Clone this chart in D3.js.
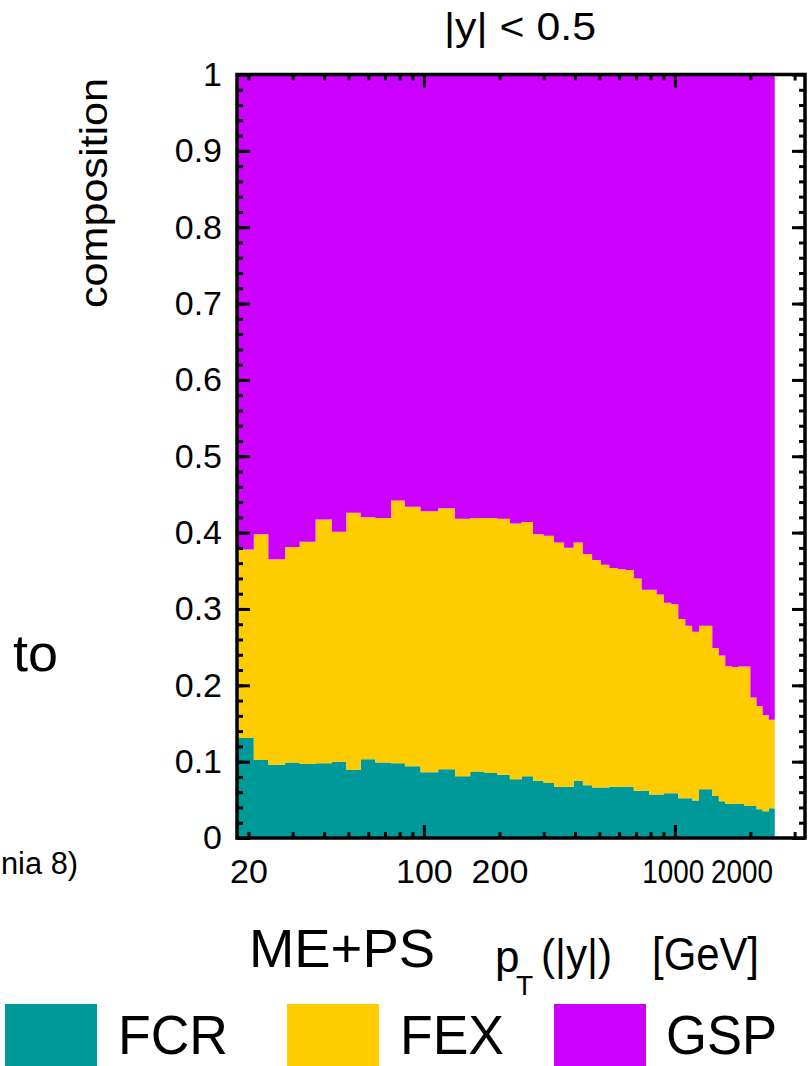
<!DOCTYPE html>
<meta charset="utf-8">
<script src="https://d3js.org/d3.v7.min.js"></script>
<style>
  body { margin: 0; background: #fff; }
  text { font-family: "Liberation Sans", Arial, sans-serif; fill: #000; }
</style>
<body>
<svg id="mysvg" width="810" height="1066"></svg>
<script>
  // bin edges in pT [GeV]
  var edges = [18, 21, 24, 28, 32, 37, 43, 49, 56, 64, 74, 84, 97, 114, 133, 153, 174, 196, 220, 245,
    272, 300, 330, 362, 395, 430, 468, 507, 548, 592, 638, 686, 737, 790, 846, 905, 967, 1032, 1101,
    1172, 1248, 1327, 1410, 1497, 1588, 1684, 1784, 1890, 2000, 2116, 2238, 2366, 2500];

  // fractions per bin
  var fcr = [0.131, 0.102, 0.096, 0.099, 0.097, 0.098, 0.100, 0.089, 0.103, 0.099, 0.098, 0.094, 0.086,
    0.090, 0.081, 0.087, 0.085, 0.083, 0.077, 0.081, 0.075, 0.072, 0.067, 0.067, 0.075, 0.069, 0.066,
    0.066, 0.067, 0.067, 0.067, 0.062, 0.062, 0.057, 0.057, 0.0585, 0.0585, 0.052, 0.052, 0.049, 0.064,
    0.064, 0.055, 0.048, 0.045, 0.045, 0.0445, 0.042, 0.042, 0.0375, 0.035, 0.039];
  var fex = [0.247, 0.296, 0.269, 0.282, 0.291, 0.319, 0.301, 0.337, 0.317, 0.320, 0.344, 0.340, 0.342,
    0.342, 0.337, 0.332, 0.334, 0.335, 0.335, 0.333, 0.323, 0.324, 0.320, 0.313, 0.312, 0.303, 0.298,
    0.292, 0.2865, 0.285, 0.284, 0.278, 0.263, 0.268, 0.262, 0.2495, 0.2475, 0.235, 0.226, 0.221, 0.214,
    0.214, 0.194, 0.191, 0.180, 0.179, 0.180, 0.1825, 0.142, 0.1355, 0.126, 0.116];
  var gsp = [0.622, 0.602, 0.635, 0.619, 0.612, 0.583, 0.599, 0.574, 0.580, 0.581, 0.558, 0.566, 0.572,
    0.568, 0.582, 0.581, 0.581, 0.582, 0.588, 0.586, 0.602, 0.604, 0.613, 0.620, 0.613, 0.628, 0.636,
    0.642, 0.6465, 0.648, 0.649, 0.660, 0.675, 0.675, 0.681, 0.692, 0.694, 0.713, 0.722, 0.730, 0.722,
    0.722, 0.751, 0.761, 0.775, 0.776, 0.7755, 0.7755, 0.816, 0.827, 0.839, 0.845];

  var keys = ["FCR", "FEX", "GSP"];
  var colors = ["#009999", "#ffcc00", "#cc00ff"];

  var xMajor = [100, 1000];
  var xMinor = [20, 30, 40, 50, 60, 70, 80, 90, 200, 300, 400, 500, 600, 700, 800, 900, 2000, 3000];
  var xLabels = [20, 100, 200, 1000, 2000];
  var yMajor = [0, 0.1, 0.2, 0.3, 0.4, 0.5, 0.6, 0.7, 0.8, 0.9, 1];
  var yMinor = d3.range(0, 51).map(function(i){ return i / 50; });

  var svg = d3.select("#mysvg");

  var x = d3.scaleLog().domain([18, 3300]).range([237, 805]);
  var y = d3.scaleLinear().domain([0, 1]).range([838, 74.5]);

  // table for the stack
  var rows = fcr.map(function(v, i){
    return { lo: edges[i], hi: edges[i+1], FCR: v, FEX: fex[i], GSP: gsp[i] };
  });
  var series = d3.stack().keys(keys)(rows);

  var area = d3.area()
      .x(function(d){ return x(d.x); })
      .y0(function(d){ return y(d.y0); })
      .y1(function(d){ return y(d.y1); });

  svg.append("g")
    .selectAll("path")
    .data(series)
    .enter()
    .append("path")
      .attr("fill", function(d, i){ return colors[i]; })
      .attr("d", function(s){
        // step shape: two points per bin
        var pts = [];
        s.forEach(function(d){
          pts.push({ x: d.data.lo, y0: d[0], y1: d[1] });
          pts.push({ x: d.data.hi, y0: d[0], y1: d[1] });
        });
        return area(pts);
      });

  // ticks on all four sides, pointing inward
  function ticks(axis, tr, len) {
    svg.append("g")
      .attr("transform", tr)
      .call(axis.tickSize(-len).tickFormat(""))
      .call(function(g){ g.select(".domain").remove(); })
      .selectAll("line").attr("stroke", "#000").attr("stroke-width", 3);
  }
  ticks(d3.axisBottom(x).tickValues(xMajor), "translate(0,838)", 13);
  ticks(d3.axisBottom(x).tickValues(xMinor), "translate(0,838)", 6);
  ticks(d3.axisTop(x).tickValues(xMajor), "translate(0,74.5)", 13);
  ticks(d3.axisTop(x).tickValues(xMinor), "translate(0,74.5)", 6);
  ticks(d3.axisLeft(y).tickValues(yMajor), "translate(237,0)", 13);
  ticks(d3.axisLeft(y).tickValues(yMinor), "translate(237,0)", 6);
  ticks(d3.axisRight(y).tickValues(yMajor), "translate(805,0)", 13);
  ticks(d3.axisRight(y).tickValues(yMinor), "translate(805,0)", 6);

  // frame
  svg.append("rect")
    .attr("x", 237).attr("y", 74.5)
    .attr("width", 805 - 237).attr("height", 838 - 74.5)
    .attr("fill", "none").attr("stroke", "#000").attr("stroke-width", 3.5);

  // tick labels
  var yl = svg.append("g")
    .attr("transform", "translate(237,0)")
    .call(d3.axisLeft(y).tickValues(yMajor).tickSize(0).tickPadding(15)
      .tickFormat(function(d){ return (d === 0 || d === 1) ? String(d) : d3.format(".1f")(d); }));
  yl.select(".domain").remove();
  yl.selectAll("text").style("font-size", "34px").attr("font-family", null);

  var xl = svg.append("g")
    .attr("transform", "translate(0,838)")
    .call(d3.axisBottom(x).tickValues(xLabels).tickSize(0).tickPadding(21).tickFormat(d3.format("d")));
  xl.select(".domain").remove();
  xl.selectAll("text").style("font-size", "34px").attr("font-family", null)
    .attr("dx", function(d){ return d === 2000 ? -9 : d === 1000 ? -2 : 0; })
    .each(function(d){
      // the two wide labels sit tight against each other
      if (d >= 1000) d3.select(this).attr("textLength", 62).attr("lengthAdjust", "spacingAndGlyphs");
    });

  // titles
  svg.append("text")
    .attr("x", 444).attr("y", 40)
    .attr("textLength", 152).attr("lengthAdjust", "spacingAndGlyphs")
    .style("font-size", "38px")
    .text("|y| < 0.5");

  svg.append("text")
    .attr("transform", "translate(107,308) rotate(-90)")
    .attr("textLength", 230).attr("lengthAdjust", "spacingAndGlyphs")
    .style("font-size", "38px")
    .text("composition");

  svg.append("text")
    .attr("x", 249).attr("y", 967)
    .attr("textLength", 186).attr("lengthAdjust", "spacingAndGlyphs")
    .style("font-size", "54px")
    .text("ME+PS");

  svg.append("text").attr("x", 495).attr("y", 972).style("font-size", "44px").text("p");
  svg.append("text").attr("x", 516).attr("y", 995).style("font-size", "28px").text("T");
  svg.append("text")
    .attr("x", 541).attr("y", 970)
    .attr("textLength", 71).attr("lengthAdjust", "spacingAndGlyphs")
    .style("font-size", "44px").text("(|y|)");
  svg.append("text")
    .attr("x", 652).attr("y", 970)
    .attr("textLength", 107).attr("lengthAdjust", "spacingAndGlyphs")
    .style("font-size", "46px").text("[GeV]");

  // pieces of neighbouring panel text cut by the frame
  svg.append("text")
    .attr("x", 13).attr("y", 671)
    .attr("textLength", 45).attr("lengthAdjust", "spacingAndGlyphs")
    .style("font-size", "52px").text("to");
  svg.append("text")
    .attr("x", 1).attr("y", 874)
    .attr("textLength", 77).attr("lengthAdjust", "spacingAndGlyphs")
    .style("font-size", "31px").text("nia 8)");

  // legend
  var legX = [5, 287, 554];
  var legText = [118, 400, 666];
  var legW = [110, 104, 111];
  var leg = svg.append("g");
  keys.forEach(function(k, i){
    leg.append("rect")
      .attr("x", legX[i]).attr("y", 1004)
      .attr("width", 92).attr("height", 62)
      .attr("fill", colors[i]);
    leg.append("text")
      .attr("x", legText[i]).attr("y", 1054)
      .attr("textLength", legW[i]).attr("lengthAdjust", "spacingAndGlyphs")
      .style("font-size", "56px")
      .text(k);
  });
</script>
</body>
